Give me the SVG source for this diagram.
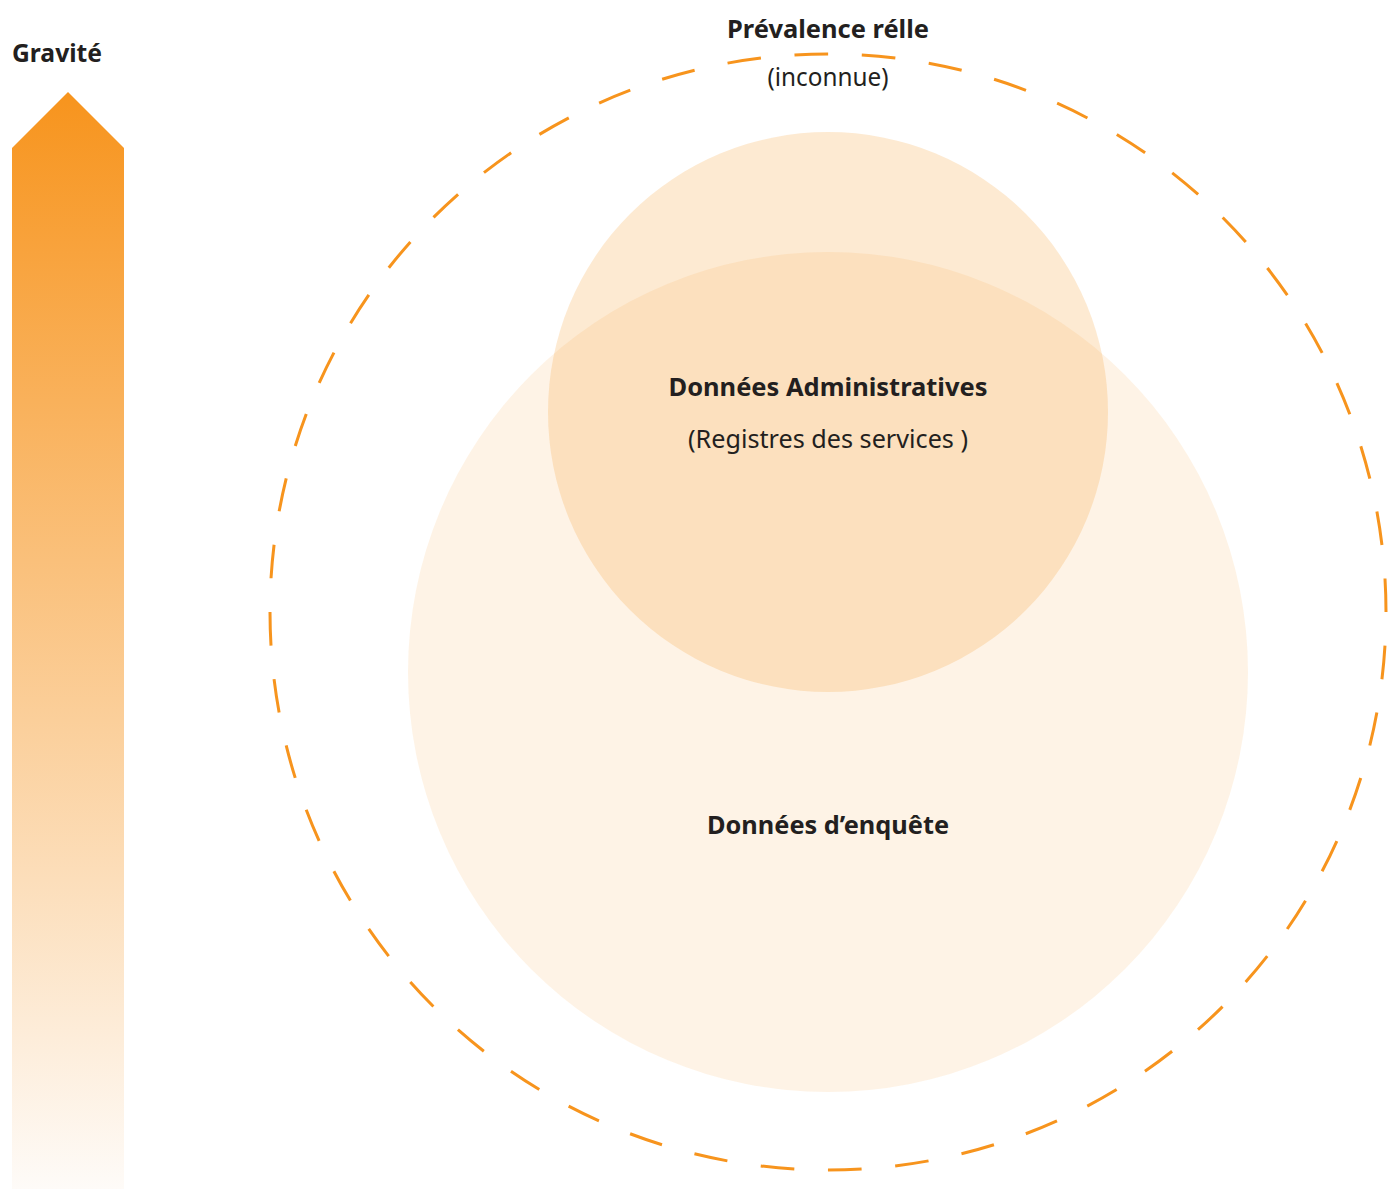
<svg xmlns="http://www.w3.org/2000/svg" width="1392" height="1189" viewBox="0 0 1392 1189">
<defs>
<linearGradient id="grav" x1="0" y1="92" x2="0" y2="1189" gradientUnits="userSpaceOnUse">
<stop offset="0" stop-color="#F7941D"/>
<stop offset="1" stop-color="#FEFBF8"/>
</linearGradient>
<style>
.b{font-family:"Noto Sans","Open Sans",sans-serif;font-weight:700;font-size:25px;fill:#231F20}
.r{font-family:"Noto Sans","Open Sans",sans-serif;font-weight:400;font-size:25px;fill:#231F20}
.m{text-anchor:middle}
</style>
</defs>
<rect width="1392" height="1189" fill="#FFFFFF"/>
<g id="arrow">
<polygon points="12,148 68,92 124,148 124,1189 12,1189" fill="url(#grav)"/>
<text class="b" x="12" y="62" textLength="90" lengthAdjust="spacingAndGlyphs">Gravité</text>
</g>
<g id="enquete">
<circle cx="828" cy="672" r="420" fill="#F7941D" fill-opacity="0.11"/>
<text class="b m" x="828" y="834" textLength="242" lengthAdjust="spacingAndGlyphs">Données d’enquête</text>
</g>
<g id="administratives">
<circle cx="828" cy="412" r="280" fill="#F7941D" fill-opacity="0.2"/>
<text class="b m" x="828" y="396" textLength="319" lengthAdjust="spacingAndGlyphs">Données Administratives</text>
<text class="r m" x="828" y="448" textLength="280" lengthAdjust="spacingAndGlyphs">(Registres des services )</text>
</g>
<g id="prevalence">
<circle cx="828" cy="612" r="558" fill="none" stroke="#F7941D" stroke-width="3" stroke-dasharray="33.71 33.71" stroke-dashoffset="33.71"/>
<text class="b m" x="828" y="38" textLength="202" lengthAdjust="spacingAndGlyphs">Prévalence rélle</text>
<text class="r m" x="828" y="86" textLength="121" lengthAdjust="spacingAndGlyphs">(inconnue)</text>
</g>
<g id="connectors"/>
</svg>
